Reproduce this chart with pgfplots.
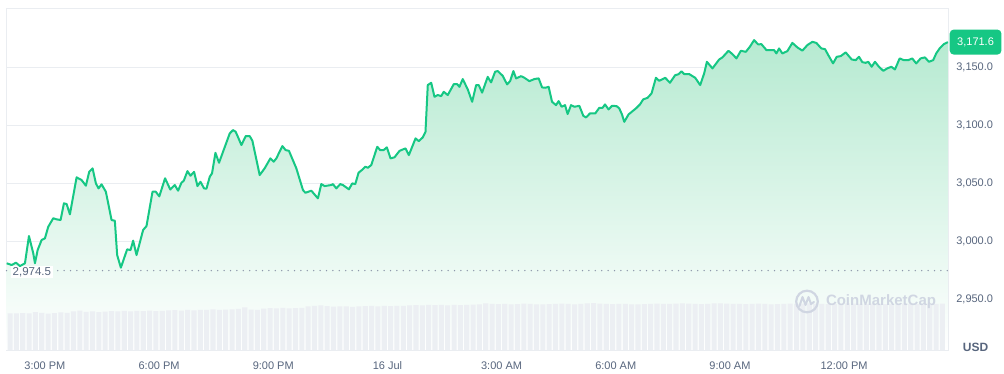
\documentclass[border=0pt]{standalone}
\usepackage{fontspec}
\setmainfont{Liberation Sans}
\usepackage{pgfplots}
\usepackage{pgfplotstable}
\pgfplotsset{compat=1.18}
\definecolor{cmcgreen}{RGB}{22,199,132}
\definecolor{gridc}{RGB}{234,237,241}
\definecolor{labc}{RGB}{88,102,126}
\definecolor{volc}{RGB}{236,239,243}
\definecolor{dotc}{RGB}{140,150,170}
\definecolor{fillc}{RGB}{182,234,209}
\definecolor{wmc}{RGB}{208,214,226}

\pgfplotstableread[row sep=\\]{
h v\\
-1.005 2980.8\\ -0.874 2979.3\\ -0.761 2981.3\\ -0.656 2978.4\\ -0.525 2980.8\\ -0.420 3004.3\\ -0.307 2989.4\\ -0.262 2980.8\\ -0.192 2992.2\\ -0.087 3000.9\\
0.000 3002.3\\ 0.087 3012.3\\ 0.218 3019.6\\ 0.307 3018.7\\ 0.412 3018.1\\ 0.499 3032.5\\ 0.570 3031.9\\ 0.656 3023.0\\ 0.832 3054.9\\ 0.963 3052.6\\
1.076 3047.7\\ 1.163 3059.7\\ 1.252 3062.7\\ 1.339 3049.7\\ 1.409 3045.4\\ 1.488 3048.9\\ 1.601 3042.5\\ 1.751 3018.1\\ 1.837 3017.5\\ 1.898 2987.9\\
1.995 2977.0\\ 2.160 2992.8\\ 2.249 2992.2\\ 2.318 3000.3\\ 2.407 2987.9\\ 2.580 3009.5\\ 2.669 3012.9\\ 2.827 3042.5\\ 2.913 3042.5\\ 3.005 3038.5\\
3.157 3054.1\\ 3.294 3044.4\\ 3.412 3048.3\\ 3.499 3043.4\\ 3.588 3050.3\\ 3.648 3052.0\\ 3.745 3060.3\\ 3.824 3056.3\\ 3.919 3059.7\\ 4.008 3047.4\\
4.087 3051.1\\ 4.181 3045.4\\ 4.244 3045.1\\ 4.331 3055.4\\ 4.391 3058.4\\ 4.480 3076.1\\ 4.575 3067.5\\ 4.680 3077.0\\ 4.856 3092.8\\ 4.942 3095.7\\
5.013 3094.2\\ 5.163 3082.8\\ 5.276 3090.5\\ 5.381 3090.5\\ 5.451 3086.5\\ 5.643 3056.9\\ 5.774 3062.7\\ 5.924 3071.3\\ 6.010 3068.4\\ 6.081 3071.3\\
6.239 3081.9\\ 6.325 3078.4\\ 6.412 3077.8\\ 6.606 3062.7\\ 6.780 3044.0\\ 6.843 3041.6\\ 7.000 3043.4\\ 7.173 3036.8\\ 7.262 3049.1\\ 7.349 3047.4\\
7.525 3048.3\\ 7.567 3049.1\\ 7.656 3045.4\\ 7.761 3049.1\\ 7.829 3048.3\\ 7.987 3044.6\\ 8.076 3049.7\\ 8.155 3049.1\\ 8.241 3058.9\\ 8.328 3061.2\\
8.417 3064.1\\ 8.486 3063.2\\ 8.575 3065.5\\ 8.732 3081.3\\ 8.811 3078.4\\ 8.898 3078.4\\ 8.984 3080.8\\ 9.081 3071.3\\ 9.186 3072.2\\ 9.318 3077.8\\
9.475 3079.9\\ 9.562 3074.1\\ 9.738 3088.5\\ 9.824 3086.2\\ 9.929 3089.4\\ 10.000 3094.2\\ 10.060 3134.5\\ 10.150 3136.5\\ 10.236 3124.4\\ 10.323 3125.9\\
10.412 3125.0\\ 10.480 3128.7\\ 10.585 3125.9\\ 10.743 3135.3\\ 10.832 3135.3\\ 10.892 3133.0\\ 10.979 3139.7\\ 11.110 3130.8\\ 11.226 3120.1\\ 11.331 3134.5\\
11.399 3134.5\\ 11.488 3128.0\\ 11.635 3141.6\\ 11.724 3136.8\\ 11.829 3146.0\\ 11.898 3146.6\\ 12.029 3142.5\\ 12.144 3135.1\\ 12.223 3137.9\\ 12.310 3146.6\\
12.381 3140.3\\ 12.512 3142.2\\ 12.598 3140.8\\ 12.730 3137.9\\ 12.861 3139.7\\ 12.974 3140.3\\ 13.063 3132.5\\ 13.150 3132.2\\ 13.236 3133.0\\ 13.325 3120.1\\
13.430 3117.2\\ 13.499 3120.7\\ 13.577 3115.8\\ 13.667 3117.2\\ 13.735 3109.5\\ 13.824 3117.2\\ 13.911 3115.8\\ 14.042 3116.6\\ 14.147 3108.0\\ 14.218 3106.6\\
14.323 3110.1\\ 14.462 3110.1\\ 14.567 3114.9\\ 14.654 3114.9\\ 14.717 3117.8\\ 14.811 3113.5\\ 14.900 3116.6\\ 15.021 3116.4\\ 15.092 3114.4\\ 15.163 3109.2\\
15.223 3102.8\\ 15.336 3109.2\\ 15.530 3114.4\\ 15.635 3117.8\\ 15.722 3122.2\\ 15.835 3123.5\\ 15.940 3127.3\\ 16.055 3140.8\\ 16.142 3138.2\\ 16.299 3140.8\\
16.423 3136.5\\ 16.562 3143.1\\ 16.640 3143.7\\ 16.727 3146.3\\ 16.798 3144.0\\ 16.929 3144.0\\ 17.087 3140.8\\ 17.218 3134.5\\ 17.323 3144.6\\ 17.394 3154.6\\
17.541 3148.9\\ 17.717 3156.6\\ 17.803 3158.4\\ 17.961 3164.1\\ 18.066 3161.2\\ 18.171 3157.5\\ 18.286 3164.1\\ 18.417 3163.2\\ 18.522 3167.5\\ 18.635 3173.3\\
18.740 3169.6\\ 18.827 3169.8\\ 18.958 3164.7\\ 19.073 3164.7\\ 19.160 3164.7\\ 19.220 3161.8\\ 19.291 3166.1\\ 19.378 3161.8\\ 19.509 3163.8\\ 19.640 3170.9\\
19.772 3167.0\\ 19.903 3164.2\\ 20.034 3169.0\\ 20.165 3171.8\\ 20.270 3170.9\\ 20.402 3166.1\\ 20.499 3165.5\\ 20.585 3160.3\\ 20.709 3153.2\\ 20.806 3158.9\\
20.911 3159.5\\ 21.042 3162.7\\ 21.199 3156.6\\ 21.304 3156.0\\ 21.391 3158.9\\ 21.478 3154.3\\ 21.567 3153.7\\ 21.635 3154.6\\ 21.724 3150.3\\ 21.811 3154.6\\
21.916 3150.3\\ 22.029 3146.8\\ 22.134 3148.9\\ 22.239 3150.3\\ 22.336 3148.0\\ 22.459 3157.5\\ 22.572 3156.0\\ 22.685 3156.0\\ 22.790 3157.5\\ 22.895 3153.2\\
23.010 3157.5\\ 23.123 3158.4\\ 23.228 3154.6\\ 23.341 3156.0\\ 23.420 3161.8\\ 23.509 3166.1\\ 23.622 3169.8\\ 23.727 3171.6\\
}\pricedata

\pgfplotstableread[row sep=\\]{
v\\
36.7\\ 36.5\\ 36.8\\ 36.6\\ 37.8\\ 37.2\\ 36.4\\ 36.9\\ 37.5\\ 37.0\\
38.6\\ 39.4\\ 38.2\\ 38.5\\ 37.9\\ 38.4\\ 38.9\\ 38.6\\ 39.0\\ 38.7\\
39.1\\ 38.8\\ 39.3\\ 38.9\\ 39.2\\ 39.6\\ 39.8\\ 39.4\\ 40.1\\ 39.7\\
40.0\\ 40.2\\ 40.5\\ 40.1\\ 40.4\\ 40.6\\ 41.2\\ 42.7\\ 40.3\\ 40.0\\
41.4\\ 41.8\\ 41.5\\ 42.0\\ 41.7\\ 41.9\\ 42.1\\ 43.6\\ 44.2\\ 44.5\\
43.9\\ 43.4\\ 43.7\\ 43.5\\ 43.2\\ 43.6\\ 43.8\\ 44.0\\ 43.6\\ 44.1\\
43.9\\ 44.2\\ 44.0\\ 44.6\\ 44.9\\ 44.5\\ 45.1\\ 44.8\\ 45.0\\ 44.7\\
45.2\\ 44.9\\ 45.0\\ 45.3\\ 45.6\\ 46.5\\ 46.2\\ 45.8\\ 46.0\\ 45.6\\
45.9\\ 46.3\\ 46.0\\ 45.7\\ 45.5\\ 45.8\\ 46.1\\ 46.4\\ 46.0\\ 45.7\\
46.2\\ 46.5\\ 46.8\\ 46.3\\ 46.0\\ 45.9\\ 46.2\\ 46.0\\ 45.7\\ 45.5\\
45.8\\ 46.1\\ 46.4\\ 46.2\\ 46.0\\ 46.3\\ 46.6\\ 46.4\\ 46.1\\ 45.9\\
46.2\\ 46.5\\ 46.7\\ 46.4\\ 46.2\\ 46.0\\ 45.8\\ 46.1\\ 46.3\\ 46.0\\
45.7\\ 45.9\\ 46.2\\ 46.4\\ 46.1\\ 46.3\\ 46.5\\ 46.2\\ 46.0\\ 45.8\\
46.1\\ 46.4\\ 46.6\\ 46.3\\ 46.0\\ 46.2\\ 46.4\\ 46.1\\ 45.9\\ 46.2\\
46.5\\ 46.3\\ 46.0\\ 45.8\\ 46.1\\ 46.3\\ 46.0\\ 46.4\\
}\voldata

\begin{document}
\begin{tikzpicture}
\fill[white] (0pt,0pt) rectangle (1004pt,374pt);
\begin{axis}[
  at={(6.5pt,24pt)}, anchor=south west, scale only axis,
  width=941.5pt, height=342pt,
  xmin=-1.01, xmax=23.73, ymin=2906, ymax=3201,
  clip=false,
  axis line style={draw=gridc, line width=0.8pt},
  xtick={0,3,6,9,12,15,18,21},
  xticklabels={3:00 PM,6:00 PM,9:00 PM,16 Jul,3:00 AM,6:00 AM,9:00 AM,12:00 PM},
  ytick={2950,3000,3050,3100,3150},
  yticklabel pos=right,
  scaled y ticks=false,
  major tick length=0pt,
  tick style={draw=none},
  ymajorgrids, grid style={draw=gridc, line width=0.8pt},
  xticklabel style={font=\fontsize{11}{13}\selectfont, text=labc, anchor=center, yshift=-16pt},
  yticklabel style={font=\fontsize{11}{13}\selectfont, text=labc, anchor=west, xshift=4.8pt,
     /pgf/number format/.cd, fixed, fixed zerofill, precision=1, 1000 sep={,}, assume math mode=true},
]
\addplot[draw=none, top color=fillc, bottom color=white] table[x=h,y=v]{\pricedata} \closedcycle;
\addplot[dotc, line width=1.5pt, dash pattern=on 0pt off 6.4pt, line cap=round] coordinates {(-1.01,2974.5) (23.73,2974.5)};
\node[anchor=west, fill=white, inner sep=1.5pt, text=labc, font=\fontsize{11.5}{13}\selectfont, yshift=-1.2pt, xshift=4.5pt] at (axis cs:-1.01,2974.5) {2,974.5};
\addplot[cmcgreen, line width=2pt, line join=round] table[x=h,y=v]{\pricedata};
\node[anchor=west, xshift=1.5pt, fill=cmcgreen, text=white, rounded corners=4pt, inner xsep=7.5pt, minimum height=25pt, font=\fontsize{11}{13}\selectfont] at (axis cs:23.73,3171.6) {3,171.6};
\end{axis}
\begin{axis}[
  at={(6.5pt,24pt)}, anchor=south west, scale only axis,
  width=941.5pt, height=342pt,
  xmin=-0.56, xmax=147.88, ymin=0, ymax=342,
  hide axis,
]
\addplot[ybar, bar width=0.8, fill=volc, draw=none] table[x expr=\coordindex, y=v]{\voldata};
\end{axis}
% watermark
\draw[wmc, line width=2.2pt] (807pt,72.5pt) circle (10.8pt);
\draw[wmc, line width=2pt, line join=round, line cap=round] (799.5pt,68pt) -- (802.5pt,77pt) -- (805.5pt,69pt) -- (808.5pt,77pt) -- (811pt,70pt) -- (814pt,72pt);
\node[text=wmc, font=\bfseries\fontsize{15}{16}\selectfont] at (881pt,72pt) {CoinMarketCap};
\node[text=labc, font=\bfseries\fontsize{12}{14}\selectfont] at (975.5pt,27pt) {USD};
\end{tikzpicture}
\end{document}
